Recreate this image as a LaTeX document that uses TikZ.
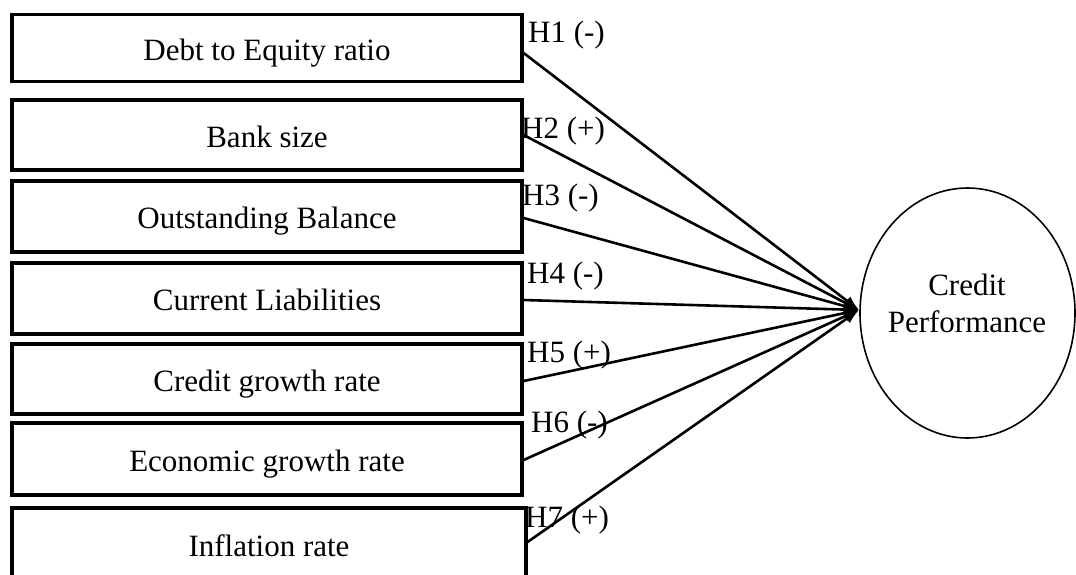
\documentclass[tikz,border=0pt]{standalone}
\usepackage{fontspec}
\setmainfont{Liberation Serif}
\usetikzlibrary{shapes.geometric,arrows.meta}
\begin{document}
\begin{tikzpicture}[x=1pt,y=-1pt,
  txt/.style={font=\fontsize{31}{37}\selectfont},
  varbox/.style={draw, line width=3.2pt, txt, inner sep=0pt, minimum width=510pt,
     text height=26pt, text depth=2pt},
  hlab/.style={txt, inner sep=0pt, anchor=base west},
  link/.style={line width=2.6pt, -{Latex[length=15pt,width=11pt]}}]
\useasboundingbox (0,0) rectangle (1076,574);
\clip (0,0) rectangle (1076,574);
\node[varbox, minimum height=67pt] (b1) at (267,48) {Debt to Equity ratio};
\node[varbox, minimum height=70pt] (b2) at (267,135) {Bank size};
\node[varbox, minimum height=71pt] (b3) at (267,216.5) {Outstanding Balance};
\node[varbox, minimum height=71pt] (b4) at (267,298.5) {Current Liabilities};
\node[varbox, minimum height=70pt] (b5) at (267,379) {Credit growth rate};
\node[varbox, minimum height=72pt] (b6) at (267,459) {Economic growth rate};
\node[varbox, minimum height=72pt, minimum width=514pt] (b7) at (269,544) {Inflation rate};
\node[draw, ellipse, line width=1.6pt, minimum width=215pt, minimum height=250pt, inner sep=0pt] (cp) at (967.5,313) {};
\node[txt, anchor=base, inner sep=0pt] (cpa) at (967,295) {Credit};
\node[txt, anchor=base, inner sep=0pt] (cpb) at (967,332) {Performance};
\coordinate (tip) at (859,310);
\draw[link] ([yshift=-5pt]b1.east) -- (tip);
\draw[link] (b2.east) -- (tip);
\draw[link] ([yshift=-1.5pt]b3.east) -- (tip);
\draw[link] ([yshift=-1.5pt]b4.east) -- (tip);
\draw[link] ([yshift=-2pt]b5.east) -- (tip);
\draw[link] ([yshift=-1pt]b6.east) -- (tip);
\draw[link] ([yshift=2pt]b7.east) -- (tip);
\node[hlab] (h1) at (528,42) {H1 (-)};
\node[hlab] (h2) at (521,138) {H2 (+)};
\node[hlab] (h3) at (522,205) {H3 (-)};
\node[hlab] (h4) at (527,283) {H4 (-)};
\node[hlab] (h5) at (527,362) {H5 (+)};
\node[hlab] (h6) at (531,432) {H6 (-)};
\node[hlab] (h7) at (525,527) {H7 (+)};
\end{tikzpicture}
\end{document}
